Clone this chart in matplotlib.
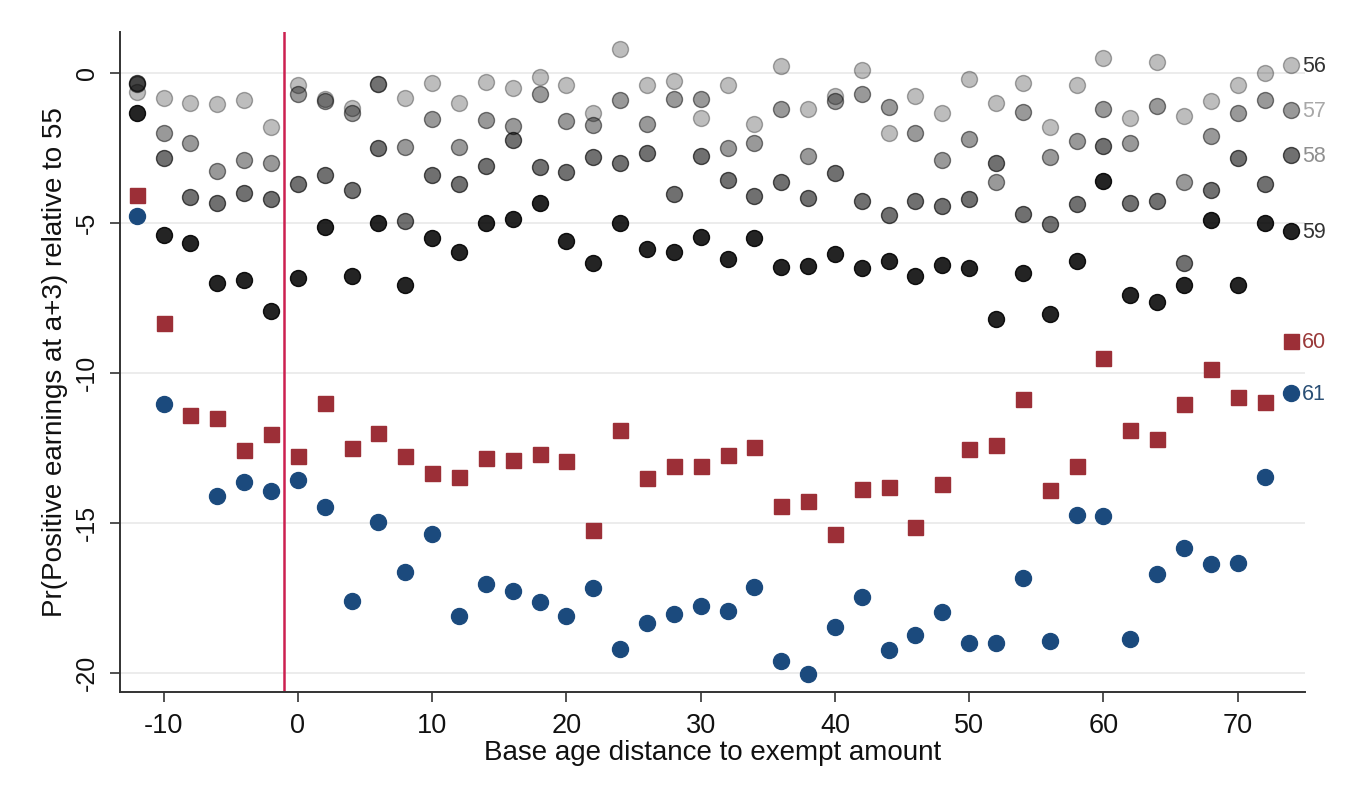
import numpy as np
import matplotlib.pyplot as plt

plt.rcParams["font.family"] = ["Liberation Sans", "DejaVu Sans"]
plt.rcParams["axes.unicode_minus"] = False

# base age distance to exempt amount
dist = [-12, -10, -8, -6, -4, -2, 0, 2, 4, 6, 8, 10, 12, 14, 16, 18, 20, 22,
        24, 26, 28, 30, 32, 34, 36, 38, 40, 42, 44, 46, 48, 50, 52, 54, 56,
        58, 60, 62, 64, 66, 68, 70, 72, 74]

age56 = [-0.64, -0.84, -1.01, -1.03, -0.88, -1.79, -0.38, -0.85, -1.16, -0.37,
         -0.84, -0.34, -0.99, -0.29, -0.48, -0.14, -0.41, -1.34, 0.82, -0.40,
         -0.27, -1.48, -0.40, -1.68, 0.23, -1.19, -0.76, 0.12, -2.01, -0.77,
         -1.34, -0.19, -1.01, -0.34, -1.79, -0.40, 0.49, -1.48, 0.36, -1.43,
         -0.92, -0.40, -0.01, 0.27]
age57 = [-0.35, -2.01, -2.32, -3.26, -2.88, -2.99, -0.70, -0.92, -1.32, -0.37,
         -2.46, -1.54, -2.46, -1.57, -1.77, -0.68, -1.59, -1.73, -0.90, -1.68,
         -0.86, -0.86, -2.48, -2.34, -1.20, -2.76, -0.92, -0.70, -1.12, -2.01,
         -2.88, -2.20, -3.62, -1.29, -2.79, -2.26, -1.20, -2.32, -1.09, -3.62,
         -2.10, -1.34, -0.90, -1.23]
age58 = [-0.32, -2.82, -4.12, -4.34, -4.01, -4.18, -3.68, -3.40, -3.88, -2.51,
         -4.93, -3.41, -3.68, -3.10, -2.23, -3.14, -3.29, -2.79, -2.99, -2.66,
         -4.03, -2.77, -3.57, -4.08, -3.63, -4.16, -3.34, -4.26, -4.73, -4.27,
         -4.43, -4.21, -2.99, -4.70, -5.03, -4.37, -2.42, -4.34, -4.26, -6.32,
         -3.90, -2.84, -3.71, -2.73]
age59 = [-1.32, -5.40, -5.66, -7.01, -6.90, -7.92, -6.84, -5.12, -6.77, -4.99,
         -7.07, -5.51, -5.96, -4.98, -4.87, -4.32, -5.59, -6.34, -5.01, -5.87,
         -5.97, -5.46, -6.21, -5.49, -6.46, -6.43, -6.03, -6.51, -6.26, -6.77,
         -6.38, -6.50, -8.18, -6.66, -8.03, -6.26, -3.60, -7.40, -7.64, -7.07,
         -4.90, -7.07, -4.99, -5.27]
age60 = [-4.05, -8.34, -11.40, -11.48, -12.57, -12.03, -12.77, -11.01, -12.51,
         -11.99, -12.77, -13.32, -13.46, -12.82, -12.91, -12.71, -12.93, -15.23,
         -11.88, -13.51, -13.10, -13.10, -12.74, -12.47, -14.42, -14.27, -15.38,
         -13.88, -13.81, -15.12, -13.70, -12.54, -12.38, -10.87, -13.90, -13.09,
         -9.49, -11.90, -12.20, -11.04, -9.87, -10.79, -10.96, -8.92]
age61 = [-4.75, -11.03, np.nan, -14.09, -13.64, -13.94, -13.57, -14.46, -17.60,
         -14.96, -16.62, -15.37, -18.09, -17.04, -17.26, -17.62, -18.09, -17.16,
         -19.20, -18.32, -18.04, -17.77, -17.92, -17.14, -19.60, -20.04, -18.48,
         -17.48, -19.23, -18.73, -17.98, -19.00, -19.01, -16.84, -18.92, -14.73,
         -14.77, -18.88, -16.71, -15.82, -16.37, -16.32, -13.46, -10.66]

cutoff = -1

fig = plt.figure(figsize=(13.48, 7.96), dpi=100)
ax = fig.add_axes([0.089, 0.1307, 0.879, 0.829])

# gray series are black at different opacities so overlaps get darker
series = [
    ("56", age56, "o", (0, 0, 0, 0.26), (0, 0, 0, 0.32), "#333333"),
    ("57", age57, "o", (0, 0, 0, 0.40), (0, 0, 0, 0.50), "#a8a8a8"),
    ("58", age58, "o", (0, 0, 0, 0.56), (0, 0, 0, 0.66), "#8f8f8f"),
    ("59", age59, "o", (0, 0, 0, 0.86), (0, 0, 0, 0.9), "#333333"),
    ("61", age61, "o", "#1b4a7d", "#1b4a7d", "#2a4f75"),
    ("60", age60, "s", "#9c2f37", "#9c2f37", "#9a3a3a"),
]

for name, vals, mk, fc, ec, tc in series:
    ms = 11.5 if mk == "o" else 10.8
    ax.plot(dist, vals, linestyle="none", marker=mk, markersize=ms,
            markerfacecolor=fc, markeredgecolor=ec, markeredgewidth=1.0,
            zorder=3)
    ax.annotate(name, (dist[-1], vals[-1]), xytext=(7.5, -1),
                textcoords="offset points", va="center", ha="left",
                fontsize=15.5, color=tc, annotation_clip=False)

ax.axvline(cutoff, color="#cc2050", linewidth=1.8, zorder=2)

ax.set_xlim(-13.25, 75)
ax.set_ylim(-20.63, 1.37)
ax.set_xticks(range(-10, 71, 10))
ax.set_yticks([0, -5, -10, -15, -20])
ax.set_yticklabels(["0", "-5", "-10", "-15", "-20"], rotation=90, va="center")
ax.grid(axis="y", color="#ececec", linewidth=1.4, zorder=0)
ax.set_axisbelow(True)

for side in ["top", "right"]:
    ax.spines[side].set_visible(False)
ax.spines["left"].set_color("#333333")
ax.spines["bottom"].set_color("#333333")
ax.spines["left"].set_linewidth(1.4)
ax.spines["bottom"].set_linewidth(1.4)
ax.tick_params(axis="both", length=7, width=1.2, color="#333333",
               labelcolor="#111111")
ax.tick_params(axis="x", labelsize=19.5, pad=8)
ax.tick_params(axis="y", labelsize=18, pad=8)

ax.set_xlabel("Base age distance to exempt amount", fontsize=20, labelpad=1,
              color="#111111")
ax.set_ylabel("Pr(Positive earnings at a+3) relative to 55", fontsize=20,
              labelpad=5, color="#111111")

fig.savefig("out.png", dpi=100)
